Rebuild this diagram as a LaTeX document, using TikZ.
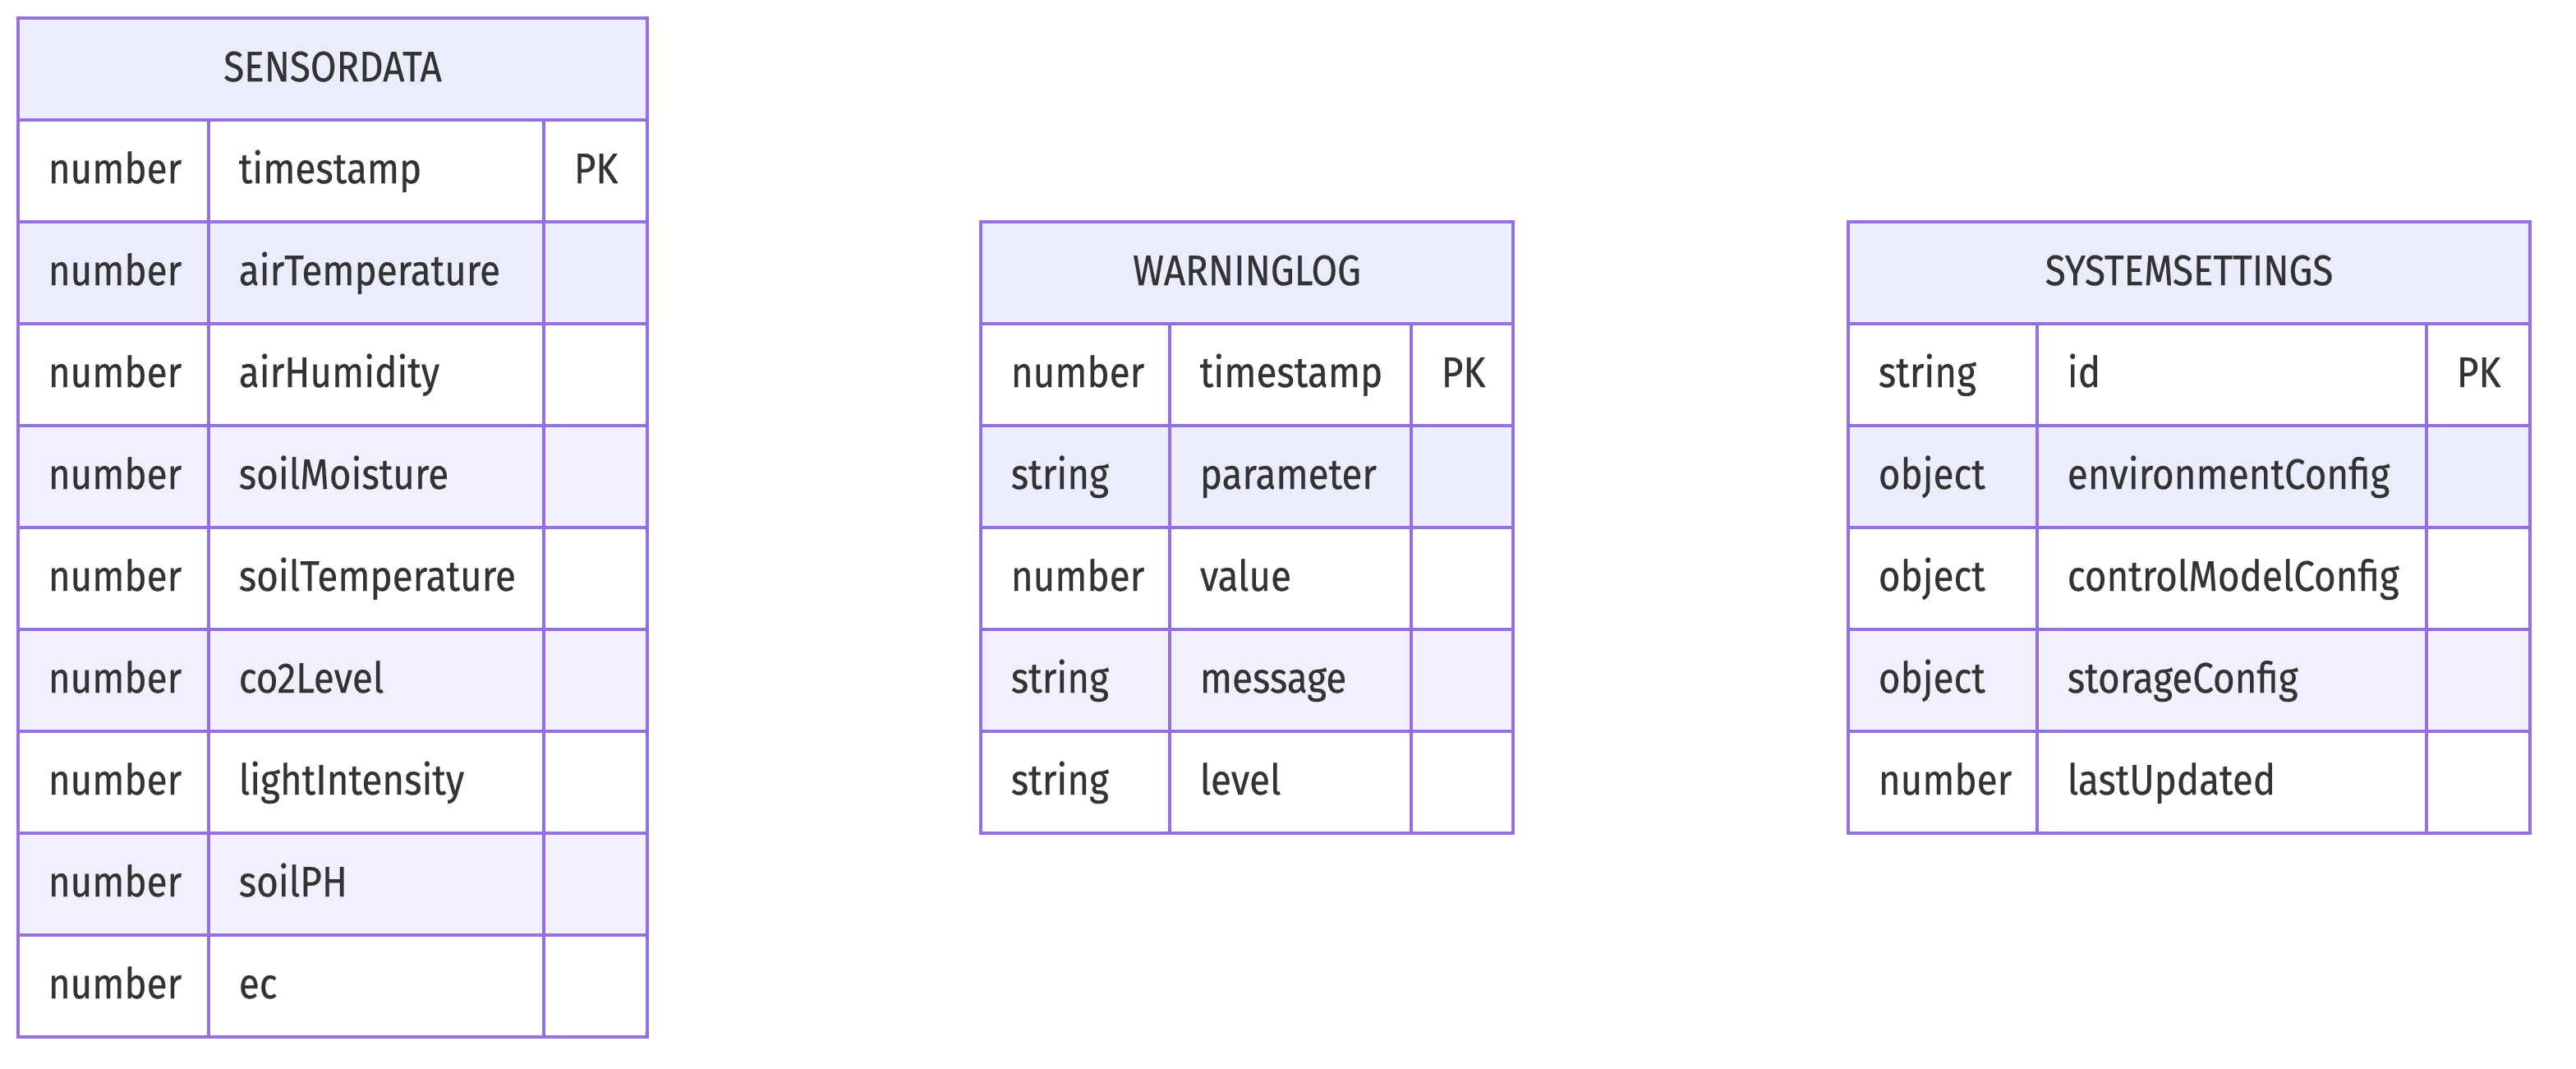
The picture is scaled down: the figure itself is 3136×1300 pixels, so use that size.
\documentclass[tikz,border=0pt]{standalone}
\usepackage{fontspec}
\setmainfont{Fira Sans}[FakeStretch=0.88,FakeBold=0.4]
\definecolor{erline}{HTML}{9370DB}
\definecolor{erhead}{HTML}{ECECFF}
\definecolor{erstripe}{HTML}{F0F0FF}
\definecolor{ertext}{HTML}{333333}
\tikzset{
  x=0.25pt, y=-0.25pt,
  erborder/.style={draw=erline, line width=0.8pt},
  txt/.style={inner sep=0pt, text=ertext, font=\fontsize{13}{15}\selectfont},
}
% #1 id, #2 title, #3 xL, #4 xA, #5 xB, #6 xR, #7 yTop, #8 nrows, #9 rows
\newcommand\erTable[9]{%
  \fill[erhead] (#3,#7) rectangle (#6,#7+124);
  \node[txt,anchor=base] (#1-title) at ({(#3+#6)/2},#7+77) {#2};
  \foreach \ty/\nm [count=\i] in {#9} {
    \pgfmathsetmacro\ya{#7+124*\i}
    \pgfmathsetmacro\yb{\ya+124}
    \ifodd\i \def\rowfill{white}\else\ifnum\i=2 \def\rowfill{erhead}\else\def\rowfill{erstripe}\fi\fi
    \fill[\rowfill] (#3,\ya) rectangle (#6,\yb);
    \node[txt,anchor=base west] (#1-type\i) at (#3+36,\ya+77) {\ty};
    \node[txt,anchor=base west] (#1-name\i) at (#4+36,\ya+77) {\nm};
  }
  \foreach \i in {1,...,#8} {
    \draw[erborder] (#3,#7+124*\i) -- (#6,#7+124*\i);
  }
  \draw[erborder] (#4,#7+124) -- (#4,#7+124*#8+124);
  \draw[erborder] (#5,#7+124) -- (#5,#7+124*#8+124);
  \draw[erborder] (#3,#7) rectangle (#6,#7+124*#8+124);
  \node[txt,anchor=base west] (#1-pk) at (#5+36,#7+201) {PK};
}
\begin{document}
\begin{tikzpicture}
\useasboundingbox (0,0) rectangle (3136,1300);
\erTable{sd}{SENSORDATA}{22}{254}{662}{788}{22}{9}{number/timestamp, number/airTemperature, number/airHumidity, number/soilMoisture, number/soilTemperature, number/co2Level, number/lightIntensity, number/soilPH, number/ec}
\erTable{wl}{WARNINGLOG}{1194}{1424}{1718}{1842}{270}{5}{number/timestamp, string/parameter, number/value, string/message, string/level}
\erTable{ss}{SYSTEMSETTINGS}{2250}{2480}{2954}{3080}{270}{5}{string/id, object/environmentConfig, object/controlModelConfig, object/storageConfig, number/lastUpdated}
\end{tikzpicture}
\end{document}
